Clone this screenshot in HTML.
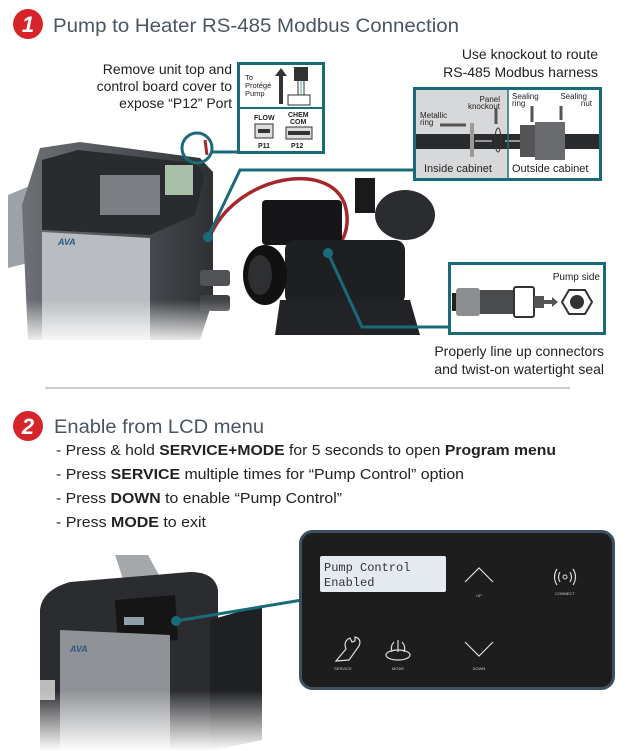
<!DOCTYPE html>
<html><head><meta charset="utf-8"><style>
html,body{margin:0;padding:0;background:#fff;width:633px;height:751px;overflow:hidden}
svg{display:block;font-family:"Liberation Sans",sans-serif}
</style></head><body>
<svg width="633" height="751" viewBox="0 0 633 751" xmlns="http://www.w3.org/2000/svg">
<defs>
<linearGradient id="fade" x1="0" y1="0" x2="0" y2="1"><stop offset="0" stop-color="#fff" stop-opacity="0"/><stop offset="1" stop-color="#fff" stop-opacity="1"/></linearGradient>
<linearGradient id="body" x1="0" y1="0" x2="1" y2="0"><stop offset="0" stop-color="#6d7075"/><stop offset="0.6" stop-color="#4a4d52"/><stop offset="1" stop-color="#2e3034"/></linearGradient>
</defs>

<!-- Section 1 header -->
<circle cx="28" cy="24" r="15" fill="#d5252b"/>
<text x="28" y="32" text-anchor="middle" fill="#fff" font-size="22" font-weight="bold" font-style="italic">1</text>
<text x="53" y="32" fill="#4a5561" font-size="19.5" textLength="406" lengthAdjust="spacingAndGlyphs">Pump to Heater RS-485 Modbus Connection</text>

<!-- Heater 1 -->
<polygon points="8,195 32,185 32,262 8,268" fill="#9da2a7"/>
<polygon points="22,205 40,148 80,142 200,158 213,172 213,300 200,340 28,340" fill="url(#body)"/>
<polygon points="42,160 78,150 195,163 205,175 195,215 150,235 42,230" fill="#2a2b2e"/>
<rect x="100" y="175" width="60" height="40" fill="#7c7f83"/>
<rect x="165" y="165" width="28" height="30" fill="#a9c0a8"/>
<polygon points="42,232 150,238 150,340 42,340" fill="#b9bcc0"/>
<text x="58" y="245" fill="#2d5d84" font-size="9" font-weight="bold" font-style="italic">AVA</text>
<rect x="200" y="270" width="30" height="16" rx="3" fill="#505256"/>
<rect x="200" y="295" width="30" height="16" rx="3" fill="#404246"/>
<rect x="0" y="300" width="240" height="45" fill="url(#fade)"/>

<!-- red cable -->
<path d="M212,232 C240,175 330,160 345,205 C352,230 340,248 330,252" fill="none" stroke="#a4282b" stroke-width="3.5"/>
<path d="M205,140 L207,155" stroke="#a4282b" stroke-width="3"/>

<!-- teal callouts -->
<circle cx="197" cy="148" r="15" fill="none" stroke="#1a6b7a" stroke-width="3"/>
<line x1="212" y1="152" x2="238" y2="152" stroke="#1a6b7a" stroke-width="3"/>
<circle cx="208" cy="237" r="5" fill="#1a6b7a"/>
<polyline points="208,237 240,170 415,170" fill="none" stroke="#1a6b7a" stroke-width="3"/>

<!-- Pump -->
<rect x="355" y="178" width="20" height="35" fill="#1a1a1c"/>
<ellipse cx="405" cy="215" rx="30" ry="25" fill="#2b2c2f"/>
<rect x="262" y="200" width="80" height="45" rx="4" fill="#161618"/>
<rect x="285" y="240" width="120" height="65" rx="10" fill="#1e1f21"/>
<ellipse cx="265" cy="275" rx="22" ry="30" fill="#111"/>
<ellipse cx="260" cy="275" rx="12" ry="20" fill="#2e2f31"/>
<polygon points="280,300 410,300 420,335 275,335" fill="#222326"/>
<circle cx="328" cy="253" r="5" fill="#1a6b7a"/>
<polyline points="328,253 362,327 450,327" fill="none" stroke="#1a6b7a" stroke-width="3"/>

<!-- Text top -->
<g fill="#222" font-size="14" text-anchor="end">
<text x="232" y="74">Remove unit top and</text>
<text x="232" y="91">control board cover to</text>
<text x="232" y="108">expose “P12” Port</text>
<text x="598" y="59">Use knockout to route</text>
<text x="598" y="77">RS-485 Modbus harness</text>
<text x="604" y="356">Properly line up connectors</text>
<text x="604" y="374">and twist-on watertight seal</text>
</g>

<!-- P12 box -->
<rect x="238.5" y="63.5" width="85" height="89" fill="#fff" stroke="#1a6b7a" stroke-width="3"/>
<line x1="240" y1="108" x2="322" y2="108" stroke="#1a6b7a" stroke-width="2"/>
<g font-size="7.5" fill="#222"><text x="245" y="80">To</text><text x="245" y="88">Protégé</text><text x="245" y="96">Pump</text></g>
<polygon points="279,104 283,104 283,76 287,76 281,68 275,76 279,76" fill="#333"/>
<rect x="294" y="67" width="14" height="14" fill="#333"/>
<line x1="298" y1="81" x2="298" y2="95" stroke="#333"/><line x1="301" y1="81" x2="301" y2="95" stroke="#4aa"/><line x1="304" y1="81" x2="304" y2="95" stroke="#333"/>
<rect x="288" y="95" width="22" height="10" fill="none" stroke="#333"/>
<g font-size="7" fill="#222" font-weight="bold"><text x="254" y="120">FLOW</text><text x="288" y="117">CHEM</text><text x="290" y="124">COM</text><text x="258" y="148">P11</text><text x="291" y="148">P12</text></g>
<rect x="255" y="124" width="18" height="14" fill="#ddd" stroke="#333"/><rect x="258" y="129" width="12" height="4" fill="#333"/>
<rect x="286" y="127" width="26" height="12" fill="#ddd" stroke="#333"/><rect x="288" y="131" width="22" height="4" fill="#333"/>

<!-- knockout box -->
<rect x="414.5" y="88.5" width="186" height="91" fill="#fff" stroke="#1a6b7a" stroke-width="3"/>
<rect x="416" y="90" width="91" height="88" fill="#d7d8da"/>
<rect x="416" y="134" width="183" height="15" fill="#2a2b2d"/>
<rect x="520" y="125" width="20" height="32" fill="#555"/>
<rect x="535" y="122" width="30" height="38" fill="#6a6b6e"/>
<rect x="470" y="123" width="4" height="34" fill="#999"/>
<ellipse cx="498" cy="140" rx="3" ry="12" fill="none" stroke="#333"/>
<line x1="475" y1="141" x2="492" y2="141" stroke="#fff"/><line x1="505" y1="141" x2="520" y2="141" stroke="#fff"/>
<g font-size="8" fill="#222"><text x="500" y="102" text-anchor="end">Panel</text><text x="500" y="109" text-anchor="end">knockout</text>
<text x="420" y="118">Metallic</text><text x="420" y="125">ring</text><text x="512" y="99">Sealing</text><text x="512" y="106">ring</text><text x="587" y="99" text-anchor="end">Sealing</text><text x="592" y="106" text-anchor="end">nut</text></g>
<line x1="440" y1="125" x2="466" y2="125" stroke="#555" stroke-width="3"/>
<line x1="496" y1="108" x2="496" y2="124" stroke="#555" stroke-width="3"/>
<line x1="532" y1="106" x2="532" y2="122" stroke="#555" stroke-width="3"/>
<line x1="561" y1="106" x2="561" y2="120" stroke="#555" stroke-width="3"/>
<line x1="508" y1="90" x2="508" y2="178" stroke="#1a6b7a" stroke-width="1.5"/>
<g font-size="11" fill="#222"><text x="424" y="172">Inside cabinet</text><text x="512" y="172">Outside cabinet</text></g>

<!-- Pump side box -->
<rect x="449.5" y="263.5" width="155" height="70" fill="#fff" stroke="#1a6b7a" stroke-width="3"/>
<text x="600" y="280" text-anchor="end" font-size="10" fill="#222">Pump side</text>
<rect x="452" y="293" width="30" height="18" fill="#222"/>
<rect x="456" y="288" width="24" height="28" rx="3" fill="#8d8e90"/>
<rect x="480" y="290" width="35" height="24" fill="#4a4b4d"/>
<rect x="514" y="287" width="20" height="30" rx="2" fill="#fff" stroke="#333" stroke-width="2"/>
<rect x="534" y="296" width="10" height="12" fill="#555"/>
<polygon points="544,300 552,300 552,297 558,302 552,307 552,304 544,304" fill="#555"/>
<polygon points="569,290 585,290 592,302 585,314 569,314 562,302" fill="#fff" stroke="#333" stroke-width="2"/>
<circle cx="577" cy="302" r="7" fill="#333"/>

<!-- separator -->
<line x1="45" y1="388" x2="570" y2="388" stroke="#999" stroke-width="1"/>

<!-- Section 2 -->
<circle cx="28" cy="426" r="15" fill="#d5252b"/>
<text x="28" y="434" text-anchor="middle" fill="#fff" font-size="22" font-weight="bold" font-style="italic">2</text>
<text x="54" y="433" fill="#4a5561" font-size="19.5" textLength="210" lengthAdjust="spacingAndGlyphs">Enable from LCD menu</text>
<g font-size="14.5" fill="#222">
<text x="56" y="455" textLength="500" lengthAdjust="spacingAndGlyphs">- Press &amp; hold <tspan font-weight="bold">SERVICE+MODE</tspan> for 5 seconds to open <tspan font-weight="bold">Program menu</tspan></text>
<text x="56" y="479" textLength="408" lengthAdjust="spacingAndGlyphs">- Press <tspan font-weight="bold">SERVICE</tspan> multiple times for “Pump Control” option</text>
<text x="56" y="503" textLength="286" lengthAdjust="spacingAndGlyphs">- Press <tspan font-weight="bold">DOWN</tspan> to enable “Pump Control”</text>
<text x="56" y="527" textLength="150" lengthAdjust="spacingAndGlyphs">- Press <tspan font-weight="bold">MODE</tspan> to exit</text>
</g>

<!-- Heater 2 -->
<polygon points="115,555 148,555 170,595 130,600" fill="#a5a8ab"/>
<path d="M40,610 Q42,590 70,582 L190,572 Q215,572 218,590 L218,751 L40,751 Z" fill="#2b2c2f"/>
<polygon points="115,600 175,595 178,640 118,645" fill="#151516"/>
<rect x="124" y="617" width="20" height="8" fill="#8fa0a8"/>
<polygon points="60,630 170,635 170,751 60,751" fill="#8f9296"/>
<polygon points="210,620 262,605 262,740 210,751" fill="#1f2022"/>
<polygon points="40,680 55,680 55,700 40,700" fill="#bbb"/>
<text x="70" y="652" fill="#2d5d84" font-size="9" font-weight="bold" font-style="italic">AVA</text>
<rect x="30" y="690" width="240" height="61" fill="url(#fade)"/>

<!-- callout line -->
<line x1="176" y1="621" x2="302" y2="600" stroke="#1a6b7a" stroke-width="3"/>
<circle cx="176" cy="621" r="5" fill="#1a6b7a"/>

<!-- control panel -->
<rect x="300.5" y="531.5" width="313" height="157" rx="12" fill="#1d1d1e" stroke="#3b5061" stroke-width="3"/>
<rect x="320" y="556" width="126" height="36" rx="2" fill="#e4eaf0"/>
<g font-family="Liberation Mono,monospace" font-size="12" fill="#333"><text x="324" y="571">Pump  Control</text><text x="324" y="586">Enabled</text></g>
<polyline points="465,582 479,568 493,582" fill="none" stroke="#ddd" stroke-width="1.2"/>
<text x="479" y="597" text-anchor="middle" font-size="4" fill="#ccc">UP</text>
<circle cx="565" cy="577" r="2" fill="none" stroke="#ddd"/>
<path d="M560,572 q-3,5 0,10 M570,572 q3,5 0,10 M557,569 q-5,8 0,16 M573,569 q5,8 0,16" fill="none" stroke="#ddd" stroke-width="1.2"/>
<text x="565" y="595" text-anchor="middle" font-size="4" fill="#ccc">CONNECT</text>
<path d="M336,661 l10,-12 q-3,-8 4,-11 l2,4 l3,-1 l0,-4 q7,2 4,9 l-10,14 z" fill="none" stroke="#ddd" stroke-width="1.2"/>
<text x="343" y="670" text-anchor="middle" font-size="4" fill="#ccc">SERVICE</text>
<ellipse cx="398" cy="655" rx="12" ry="5" fill="none" stroke="#ddd" stroke-width="1.2"/>
<path d="M392,652 q-2,-6 2,-10 M398,652 v-12 M404,652 q2,-6 -2,-10" fill="none" stroke="#ddd" stroke-width="1.2"/>
<text x="398" y="670" text-anchor="middle" font-size="4" fill="#ccc">MODE</text>
<polyline points="465,642 479,656 493,642" fill="none" stroke="#ddd" stroke-width="1.2"/>
<text x="479" y="670" text-anchor="middle" font-size="4" fill="#ccc">DOWN</text>
</svg>
</body></html>
